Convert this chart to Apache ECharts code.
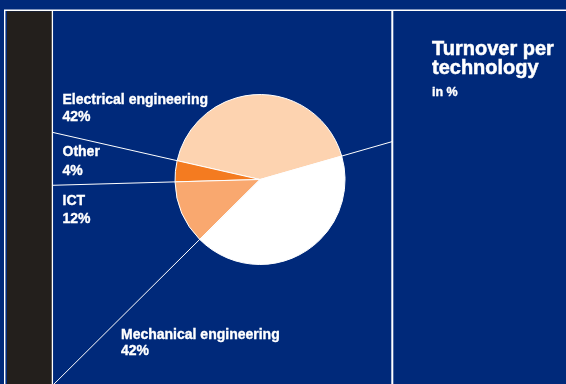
<!DOCTYPE html>
<html>
<head>
<meta charset="utf-8">
<script src="https://cdn.jsdelivr.net/npm/echarts@6/dist/echarts.min.js"></script>
<style>
  html, body { margin: 0; padding: 0; background: #00297a; }
  #chart { width: 566px; height: 384px; }
</style>
</head>
<body>
<div id="chart"></div>
<script>
// Turnover shares by technology (percent)
const categories = ['Electrical engineering', 'Other', 'ICT', 'Mechanical engineering'];
const shares = [42, 4, 12, 42];
const titleLines = ['Turnover per', 'technology'];
const unitText = 'in %';

// Styling
const NAVY = '#00297a';
const STRIP = '#231f1c';
const sliceColors = ['#fdd3b0', '#f47b20', '#f9a86f', '#ffffff'];
const LABEL_FONT = 'bold 14px "Liberation Sans", Arial, sans-serif';

// Where each category caption sits: [x, top of first line, line gap]
const labelSpots = [
  [62.5, 93.4, 16.3],
  [62.5, 145.6, 18.4],
  [62.5, 194.3, 18.2],
  [121, 328.3, 16.3]
];

const CENTER = [260, 179.5];
const PIE_R = 85;
const RAY_R = 450;

// Slice boundaries (cumulative share where each slice begins)
const boundaries = [];
shares.reduce((acc, v) => { boundaries.push(acc); return acc + v; }, 0);

const chart = echarts.init(document.getElementById('chart'), null, { renderer: 'canvas' });

const rays = boundaries.map(b => ({
  type: 'line',
  coordinateSystem: 'polar',
  data: [[0, b], [RAY_R, b]],
  symbol: 'none',
  silent: true,
  z: 2,
  lineStyle: { color: '#ffffff', width: 1 },
  animation: false
}));

// Bold text with a hairline stroke for a heavier face
function textEl(x, y, text, font, strokeW) {
  return {
    type: 'text', z: 60, x: x, y: y, silent: true,
    style: {
      text: text, font: font, fill: '#ffffff',
      stroke: '#ffffff', lineWidth: strokeW,
      verticalAlign: 'top', align: 'left'
    }
  };
}

const graphics = [];
// Left margin and strip (covers rays beyond the strip edge)
graphics.push({ type: 'rect', z: 50, shape: { x: 0, y: 0, width: 52, height: 384 }, style: { fill: NAVY }, silent: true });
graphics.push({ type: 'rect', z: 51, shape: { x: 7, y: 11.3, width: 45, height: 380 }, style: { fill: STRIP }, silent: true });
graphics.push({ type: 'line', z: 52, shape: { x1: 52.4, y1: 10, x2: 52.4, y2: 384 }, style: { stroke: '#ffffff', lineWidth: 1.3 }, silent: true });
graphics.push({ type: 'line', z: 52, shape: { x1: 4.7, y1: 10, x2: 4.7, y2: 384 }, style: { stroke: '#ffffff', lineWidth: 1.4 }, silent: true });
// Right panel
graphics.push({ type: 'rect', z: 50, shape: { x: 392, y: 0, width: 174, height: 384 }, style: { fill: NAVY }, silent: true });
graphics.push({ type: 'line', z: 52, shape: { x1: 392.3, y1: 10, x2: 392.3, y2: 384 }, style: { stroke: '#ffffff', lineWidth: 2 }, silent: true });
// Top rule
graphics.push({ type: 'line', z: 52, shape: { x1: 4, y1: 10.3, x2: 566, y2: 10.3 }, style: { stroke: '#ffffff', lineWidth: 1.5 }, silent: true });

// Heading
titleLines.forEach((t, i) => {
  graphics.push(textEl(432, 39.4 + i * 19, t, 'bold 20px "Liberation Sans", Arial, sans-serif', 0.5));
});
graphics.push(textEl(432, 86.5, unitText, 'bold 12.5px "Liberation Sans", Arial, sans-serif', 0.35));

// Category captions
categories.forEach((name, i) => {
  const [x, y, gap] = labelSpots[i];
  graphics.push(textEl(x, y, name, LABEL_FONT, 0.35));
  graphics.push(textEl(x, y + gap, shares[i] + '%', LABEL_FONT, 0.35));
});

const option = {
  backgroundColor: NAVY,
  animation: false,
  polar: { center: CENTER, radius: RAY_R },
  angleAxis: {
    type: 'value', min: 0, max: 100, startAngle: 16, clockwise: false,
    show: false, axisLine: { show: false }, axisTick: { show: false },
    axisLabel: { show: false }, splitLine: { show: false }
  },
  radiusAxis: {
    type: 'value', min: 0, max: RAY_R,
    show: false, axisLine: { show: false }, axisTick: { show: false },
    axisLabel: { show: false }, splitLine: { show: false }
  },
  series: rays.concat([{
    type: 'pie',
    center: CENTER,
    radius: PIE_R,
    startAngle: 16,
    clockwise: false,
    z: 3,
    silent: true,
    label: { show: false },
    labelLine: { show: false },
    emphasis: { disabled: true },
    itemStyle: { borderColor: '#ffffff', borderWidth: 1 },
    data: categories.map((name, i) => ({
      name: name,
      value: shares[i],
      itemStyle: { color: sliceColors[i] }
    }))
  }]),
  graphic: { elements: graphics }
};

chart.setOption(option);
</script>
</body>
</html>
